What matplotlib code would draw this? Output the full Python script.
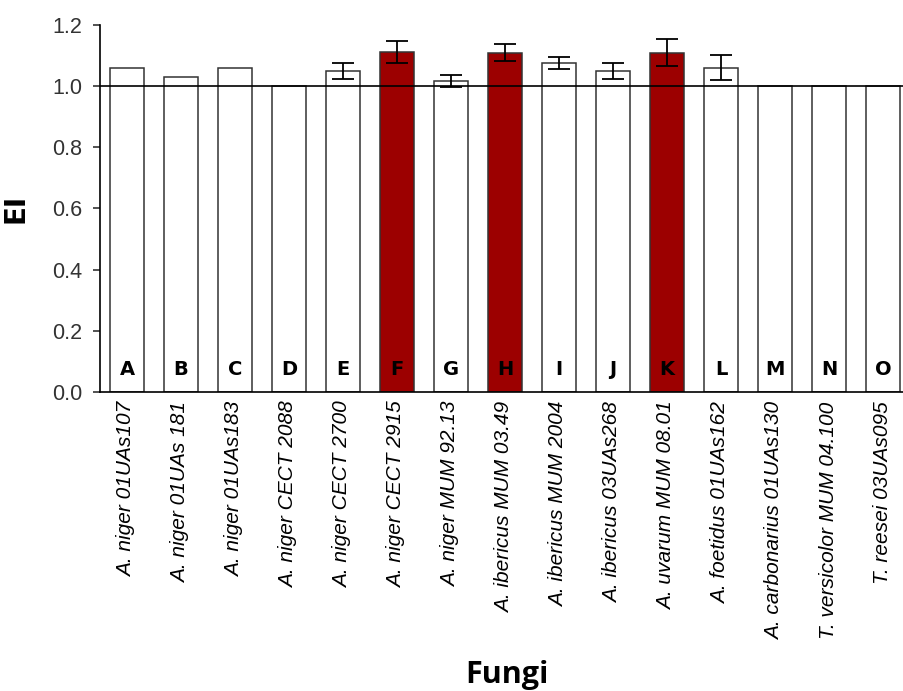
import matplotlib.pyplot as plt
import numpy as np

# 데이터
strains = ['A. niger 01UAs107', 'A. niger 01UAs 181', 'A. niger 01UAs183',
           'A. niger CECT 2088', 'A. niger CECT 2700', 'A. niger CECT 2915',
           'A. niger MUM 92.13', 'A. ibericus MUM 03.49', 'A. ibericus MUM 2004',
           'A. ibericus 03UAs268', 'A. uvarum MUM 08.01', 'A. foetidus 01UAs162',
           'A. carbonarius 01UAs130', 'T. versicolor MUM 04.100', 'T. reesei 03UAs095']
letters = ['A', 'B', 'C', 'D', 'E', 'F', 'G', 'H', 'I', 'J', 'K', 'L', 'M', 'N', 'O']
ei = [1.06, 1.03, 1.06, 1.0, 1.05, 1.113, 1.016, 1.11, 1.075, 1.05, 1.11, 1.06, 1.0, 1.0, 1.0]
err = [0, 0, 0, 0, 0.027, 0.036, 0.019, 0.028, 0.02, 0.027, 0.043, 0.041, 0, 0, 0]
highlight = ['F', 'H', 'K']

plt.rcParams['font.family'] = ['Liberation Sans Narrow', 'Liberation Sans', 'DejaVu Sans']

fig = plt.figure(figsize=(9.04, 6.91), dpi=100)
ax = fig.add_axes([100 / 904, 1 - 392 / 691, 810 / 904, 367 / 691])

x = np.arange(len(ei))
colors = ['#9C0000' if l in highlight else 'white' for l in letters]
ax.bar(x, ei, width=0.63, color=colors, edgecolor='#333333', linewidth=1.1)

# 오차막대 (값이 있는 것만)
idx = [i for i in range(len(err)) if err[i] > 0]
ax.errorbar(x[idx], [ei[i] for i in idx], yerr=[err[i] for i in idx],
            fmt='none', ecolor='black', elinewidth=1.3, capsize=8, capthick=1.3)

ax.axhline(1.0, color='black', linewidth=1.2)

for i, l in enumerate(letters):
    ax.text(i, 0.075, l, ha='center', va='center', fontsize=14,
            fontweight='heavy', family=['DejaVu Sans'])

ax.set_xlim(-0.5, 14.5)
ax.set_ylim(0, 1.2)
ax.set_yticks([0, 0.2, 0.4, 0.6, 0.8, 1.0, 1.2])
ax.set_yticklabels(['0.0', '0.2', '0.4', '0.6', '0.8', '1.0', '1.2'])
ax.set_xticks(x)
ax.set_xticklabels(strains, rotation=90, fontsize=15, style='italic')
ax.tick_params(axis='x', length=0, pad=7)
ax.tick_params(axis='y', labelsize=15.5, length=5, width=1.2, pad=8, colors='#333333')

for s in ['top', 'right']:
    ax.spines[s].set_visible(False)
ax.spines['left'].set_linewidth(1.2)
ax.spines['bottom'].set_linewidth(1.2)

ax.set_ylabel('EI', fontsize=20, fontweight='bold', labelpad=16, family=['DejaVu Sans'])
fig.text(507 / 904, 1 - 675 / 691, 'Fungi', ha='center', va='center',
         fontsize=22, fontweight='bold', family=['Open Sans', 'DejaVu Sans'])

plt.savefig('out.png', dpi=100)
